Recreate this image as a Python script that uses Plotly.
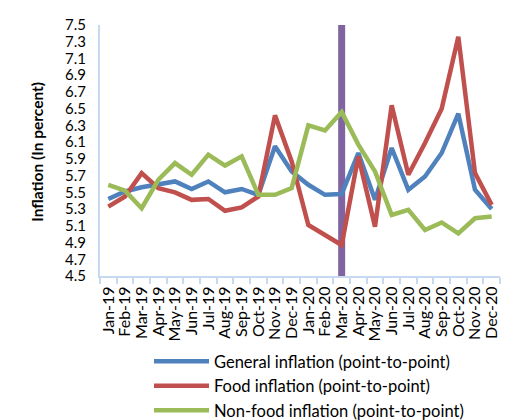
import plotly.graph_objects as go

months = ["Jan-19","Feb-19","Mar-19","Apr-19","May-19","Jun-19","Jul-19","Aug-19","Sep-19","Oct-19","Nov-19","Dec-19",
          "Jan-20","Feb-20","Mar-20","Apr-20","May-20","Jun-20","Jul-20","Aug-20","Sep-20","Oct-20","Nov-20","Dec-20"]
general = [5.42,5.51,5.56,5.59,5.63,5.54,5.63,5.50,5.54,5.47,6.05,5.75,
           5.59,5.47,5.48,5.97,5.41,6.03,5.53,5.69,5.97,6.44,5.53,5.30]
food = [5.33,5.45,5.73,5.55,5.50,5.41,5.42,5.28,5.32,5.45,6.42,5.87,
        5.11,4.99,4.87,5.93,5.09,6.54,5.71,6.09,6.50,7.36,5.73,5.35]
nonfood = [5.59,5.52,5.31,5.65,5.85,5.71,5.95,5.82,5.93,5.47,5.47,5.55,
           6.30,6.24,6.46,6.07,5.75,5.23,5.29,5.05,5.14,5.01,5.19,5.21]
marker_month = "Mar-20"
y_min, y_max = 4.5, 7.5
y_title = "Inflation (In percent)"

font = "Lato, 'Open Sans', sans-serif"
fig = go.Figure()
fig.add_trace(go.Scatter(x=[marker_month, marker_month], y=[y_min, y_max], mode="lines",
                         line=dict(color="#8064a2", width=7), showlegend=False, hoverinfo="skip"))
fig.add_trace(go.Scatter(x=months, y=general, mode="lines", name="General inflation (point-to-point)",
                         line=dict(color="#4f81bd", width=4.5)))
fig.add_trace(go.Scatter(x=months, y=food, mode="lines", name="Food inflation (point-to-point)",
                         line=dict(color="#c0504d", width=4.5)))
fig.add_trace(go.Scatter(x=months, y=nonfood, mode="lines", name="Non-food inflation (point-to-point)",
                         line=dict(color="#9bbb59", width=4.5)))

fig.update_layout(
    width=520, height=420,
    margin=dict(l=92, r=28, t=17, b=152, autoexpand=False),
    paper_bgcolor="white", plot_bgcolor="white",
    font=dict(family=font, size=15, color="#000000"),
    xaxis=dict(type="category", categoryorder="array", categoryarray=months,
               tickmode="linear", tick0=0, dtick=1,
               tickangle=-90, showgrid=False, showline=True, linecolor="#c6d9f1", linewidth=2,
               ticks="outside", tickson="boundaries", ticklen=6, tickcolor="#c6d9f1", tickwidth=1.5,
               tickfont=dict(size=16), range=[-0.5, 23.5], ticklabelstandoff=2),
    yaxis=dict(range=[y_min, y_max], tick0=4.5, dtick=0.2, tickformat=".1f", showgrid=False,
               showline=True, linecolor="#c6d9f1", linewidth=2, ticks="", zeroline=False,
               tickfont=dict(size=15), ticklabelstandoff=9),
    annotations=[dict(text="<b>" + y_title + "</b>", xref="paper", yref="paper",
                      x=-0.1575, y=0.495, xanchor="center", yanchor="middle", textangle=-90,
                      showarrow=False, font=dict(size=15.5))],
    legend=dict(x=0.1225, y=-0.271, xanchor="left", yanchor="top", bgcolor="rgba(0,0,0,0)",
                font=dict(size=16.5), itemwidth=55, tracegroupgap=0),
    showlegend=True,
)
fig.write_html("out.html")
